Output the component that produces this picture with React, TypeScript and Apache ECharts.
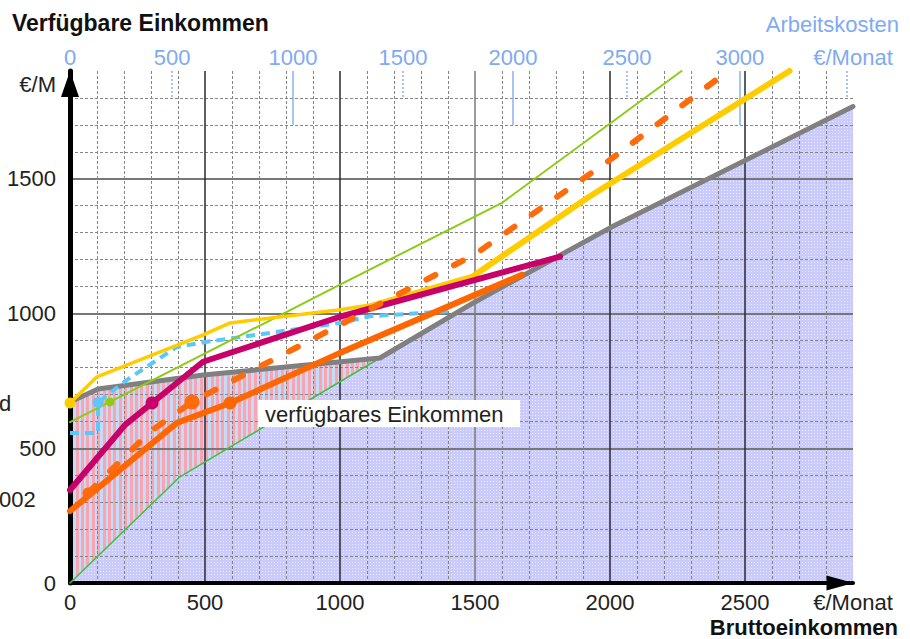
import React, { useEffect, useRef } from 'react';
import * as echarts from 'echarts';

// ---------- data (Bruttoeinkommen €/Monat -> verfügbares Einkommen €/Monat) ----------
const greyX = [0, 104, 493, 1148, 1500, 2000, 2900];
const greyY = [672, 720, 772, 835, 1043, 1318, 1768];
const lowerGreenX = [0, 407, 1148];
const lowerGreenY = [0, 394, 835];
const upperGreenX = [0, 148, 1000, 1600, 2265];
const upperGreenY = [597, 672, 1107, 1411, 1900];
const yellowX = [0, 100, 493, 593, 1000, 1111, 1500];
const yellowY = [668, 765, 921, 965, 1014, 1032, 1144];
const yellowUpperX = [1500, 1914, 2665];
const yellowUpperY = [1144, 1428, 1900];
const magentaX = [0, 204, 304, 493, 1000, 1815];
const magentaY = [345, 587, 668, 821, 988, 1211];
const orangeX = [0, 396, 593, 1000, 1674];
const orangeY = [267, 594, 668, 854, 1144];
const orangeDashX = [67, 296, 452, 1000, 1500, 2000, 2430];
const orangeDashY = [334, 561, 672, 958, 1220, 1570, 1895];
const blueX = [0, 104, 104, 211, 396, 507, 1000, 1111, 1400];
const blueY = [557, 557, 670, 754, 876, 895, 965, 990, 1008];
const dotSeries = ['yellow', 'blue', 'green', 'magenta', 'orangeDash', 'orange', 'orangeDashSmall'];
const dotX = [0, 104, 148, 304, 452, 593, 67];
const dotY = [668, 670, 672, 668, 672, 668, 334];

// ---------- tick labels ----------
const xTicks = [0, 500, 1000, 1500, 2000, 2500];
const xUnitAt = 2900;
const xUnit = '€/Monat';
const yTicks = [0, 500, 1000, 1500];
const yUnitAt = 1850;
const yUnit = '€/M';
const topTickBrutto = [0, 378, 826, 1233, 1641, 2063, 2481, 2900];
const topTickLabels = ['0', '500', '1000', '1500', '2000', '2500', '3000', '€/Monat'];
const topDottedTicks = [378, 1233, 2063, 2878];
const topSolidTicks = [826, 1641, 2481];

const FONT = '"Liberation Sans", Arial, Helvetica, sans-serif';

const pts = (xs: number[], ys: number[]) => xs.map((x, i) => [x, ys[i]]);

const colors: Record<string, string> = {
  yellow: '#ffcc00',
  blue: '#5cc8fa',
  green: '#8ccc14',
  magenta: '#c8006a',
  orangeDash: '#ff6a0a',
  orange: '#ff6600',
  orangeDashSmall: '#ff6a0a',
};
const dotSizes: Record<string, number> = {
  yellow: 11, blue: 11, green: 9, magenta: 13, orangeDash: 15, orange: 13, orangeDashSmall: 11,
};

function stripePattern(): string {
  const c = document.createElement('canvas');
  c.width = 27; c.height = 4;
  const ctx = c.getContext('2d')!;
  ctx.fillStyle = '#c8dbf6';
  ctx.fillRect(0, 0, 27, 4);
  ctx.fillStyle = '#f5a6b2';
  [0, 5, 11, 16, 22].forEach((x) => ctx.fillRect(x, 0, 3, 4));
  return c.toDataURL();
}
function dotPattern(): string {
  const c = document.createElement('canvas');
  c.width = 3; c.height = 3;
  const ctx = c.getContext('2d')!;
  ctx.fillStyle = '#cbcbfb';
  ctx.fillRect(0, 0, 3, 3);
  ctx.fillStyle = '#e8e8ff';
  ctx.fillRect(1, 1, 1, 1);
  return c.toDataURL();
}

function buildOption() {
  const grey = pts(greyX, greyY);
  const redArea = grey.filter((p) => p[0] <= lowerGreenX[lowerGreenX.length - 1]);
  const blueArea = pts(lowerGreenX, lowerGreenY).concat(
    grey.filter((p) => p[0] > lowerGreenX[lowerGreenX.length - 1])
  );

  const line = (data: number[][], color: string, width: number, z: number, extra: any = {}) => ({
    type: 'line',
    xAxisIndex: 1,
    yAxisIndex: 1,
    data,
    symbol: 'none',
    showSymbol: false,
    silent: true,
    clip: false,
    z,
    lineStyle: { color, width, cap: 'round', join: 'round', ...extra },
  });

  const labelStyle = { fontSize: 22, color: '#222', fontFamily: FONT };

  return {
    animation: false,
    backgroundColor: '#ffffff',
    grid: { left: 70, top: 71, right: 57, bottom: 56, outerBoundsMode: 'none' },
    xAxis: [
      {
        type: 'value', min: 0, max: 2900, interval: 500, position: 'bottom', z: 1,
        axisLine: { show: false, onZero: false }, axisTick: { show: false }, axisLabel: { show: false },
        splitLine: {
          show: true, showMaxLine: false,
          lineStyle: { color: ['transparent', '#2a2a2a', '#2a2a2a', '#7a7a7a', '#2a2a2a', '#2a2a2a'], width: 1.5 },
        },
      },
      {
        type: 'value', min: 0, max: 2900, interval: 100, position: 'bottom', z: 1,
        axisLine: {
          show: true, onZero: false, symbol: ['none', 'triangle'], symbolSize: [15, 27], symbolOffset: [0, -13],
          lineStyle: { color: '#000', width: 4 },
        },
        axisTick: { show: false },
        axisLabel: {
          show: true, customValues: [...xTicks, xUnitAt], showMinLabel: true, showMaxLabel: true,
          formatter: (v: number) => (v === xUnitAt ? xUnit : String(v)), margin: 8, lineHeight: 22, ...labelStyle,
        },
        splitLine: {
          show: true, showMaxLine: false,
          lineStyle: { color: ['transparent', '#868686', '#868686', '#868686', '#868686'], width: 1, type: [3, 2] },
        },
      },
      {
        type: 'value', min: 0, max: 2900, position: 'top', z: 1,
        axisLine: { show: false, onZero: false }, splitLine: { show: false },
        axisTick: {
          show: true, inside: true, length: 27, customValues: topDottedTicks,
          lineStyle: { color: '#8ab0f2', width: 1.5, type: [2, 2] },
        },
        axisLabel: {
          show: true, customValues: topTickBrutto, showMinLabel: true, showMaxLabel: true, margin: 3,
          formatter: (v: number) => {
            const i = topTickBrutto.indexOf(v);
            return i >= 0 ? topTickLabels[i] : '';
          },
          fontSize: 22, color: '#80aaf2', fontFamily: FONT,
        },
      },
      {
        type: 'value', min: 0, max: 2900, position: 'top', z: 1,
        axisLine: { show: false, onZero: false }, splitLine: { show: false }, axisLabel: { show: false },
        axisTick: {
          show: true, inside: true, length: 54, customValues: topSolidTicks,
          lineStyle: { color: '#8ab0f2', width: 1.5 },
        },
      },
    ],
    yAxis: [
      {
        type: 'value', min: 0, max: 1900, interval: 500, position: 'left', z: 1,
        axisLine: { show: false, onZero: false }, axisTick: { show: false }, axisLabel: { show: false },
        splitLine: { show: true, showMaxLine: false, lineStyle: { color: ['transparent', '#777', '#777', '#777'], width: 2 } },
      },
      {
        type: 'value', min: 0, max: 1900, interval: 100, position: 'left', z: 1,
        axisLine: {
          show: true, onZero: false, symbol: ['none', 'triangle'], symbolSize: [18, 26], symbolOffset: [0, -13],
          lineStyle: { color: '#000', width: 5 },
        },
        axisTick: { show: false },
        axisLabel: {
          show: true, customValues: [...yTicks, yUnitAt], showMinLabel: true, showMaxLabel: true,
          formatter: (v: number) => (v === yUnitAt ? yUnit : String(v)), margin: 14, ...labelStyle,
        },
        splitLine: {
          show: true, showMaxLine: false,
          lineStyle: { color: ['transparent', '#868686', '#868686', '#868686', '#868686'], width: 1, type: [3, 2] },
        },
      },
    ],
    series: [
      {
        type: 'line', xAxisIndex: 1, yAxisIndex: 1, data: redArea, symbol: 'none', silent: true, z: 0,
        lineStyle: { width: 0, opacity: 0 },
        areaStyle: { opacity: 1, color: { image: stripePattern(), repeat: 'repeat', imageWidth: 27, imageHeight: 4 } },
      },
      {
        type: 'line', xAxisIndex: 1, yAxisIndex: 1, data: blueArea, symbol: 'none', silent: true, z: 0,
        lineStyle: { width: 0, opacity: 0 },
        areaStyle: { opacity: 1, color: { image: dotPattern(), repeat: 'repeat', imageWidth: 3, imageHeight: 3 } },
      },
      line(pts(lowerGreenX, lowerGreenY), '#3cc23c', 1.5, 2),
      line(grey, '#808080', 5, 3),
      line(pts(blueX, blueY), colors.blue, 4, 3, { type: [9, 6], cap: 'butt' }),
      line(pts(upperGreenX, upperGreenY), colors.green, 2, 3),
      line(pts(yellowX, yellowY), colors.yellow, 3.5, 3),
      line(pts(yellowUpperX, yellowUpperY), colors.yellow, 6, 3),
      line(pts(magentaX, magentaY), colors.magenta, 6, 3),
      line(pts(orangeX, orangeY), colors.orange, 6, 3),
      line(pts(orangeDashX, orangeDashY), colors.orangeDash, 6, 3, { type: [10, 21] }),
      {
        type: 'scatter', xAxisIndex: 1, yAxisIndex: 1, silent: true, z: 4,
        data: dotX.map((x, i) => ({
          value: [x, dotY[i]],
          symbolSize: dotSizes[dotSeries[i]],
          itemStyle: { color: colors[dotSeries[i]], opacity: 1 },
        })),
      },
    ],
    graphic: [
      {
        type: 'text', x: 12, y: 23, z: 5,
        style: {
          text: 'Verfügbare Einkommen', font: `bold 23px ${FONT}`, fill: '#111',
          align: 'left', textAlign: 'left', verticalAlign: 'middle', textVerticalAlign: 'middle',
        },
      },
      {
        type: 'text', x: 899, y: 24, z: 5,
        style: {
          text: 'Arbeitskosten', font: `22px ${FONT}`, fill: '#80aaf2',
          align: 'right', textAlign: 'right', verticalAlign: 'middle', textVerticalAlign: 'middle',
        },
      },
      {
        type: 'text', x: 898, y: 627, z: 5,
        style: {
          text: 'Bruttoeinkommen', font: `bold 22px ${FONT}`, fill: '#111', lineHeight: 22,
          align: 'right', textAlign: 'right', verticalAlign: 'middle', textVerticalAlign: 'middle',
        },
      },
      {
        type: 'text', x: -1, y: 403, z: 5,
        style: {
          text: 'd', font: `22px ${FONT}`, fill: '#222',
          align: 'left', textAlign: 'left', verticalAlign: 'middle', textVerticalAlign: 'middle',
        },
      },
      {
        type: 'text', x: -1, y: 499, z: 5,
        style: {
          text: '002', font: `22px ${FONT}`, fill: '#222',
          align: 'left', textAlign: 'left', verticalAlign: 'middle', textVerticalAlign: 'middle',
        },
      },
      {
        type: 'rect', z: 2.5, shape: { x: 258, y: 400, width: 262, height: 27 },
        style: { fill: '#ffffff' },
      },
      {
        type: 'text', x: 265, y: 414, z: 2.6,
        style: {
          text: 'verfügbares Einkommen', font: `22px ${FONT}`, fill: '#222',
          align: 'left', textAlign: 'left', verticalAlign: 'middle', textVerticalAlign: 'middle',
        },
      },
    ],
  };
}

export default function App() {
  const ref = useRef<HTMLDivElement>(null);
  useEffect(() => {
    if (!ref.current) return;
    const chart = echarts.init(ref.current, undefined, { renderer: 'svg', width: 910, height: 639 });
    chart.setOption(buildOption() as any);
    return () => chart.dispose();
  }, []);
  return (
    <div
      ref={ref}
      style={{ position: 'fixed', left: 0, top: 0, width: 910, height: 639, background: '#fff' }}
    />
  );
}
